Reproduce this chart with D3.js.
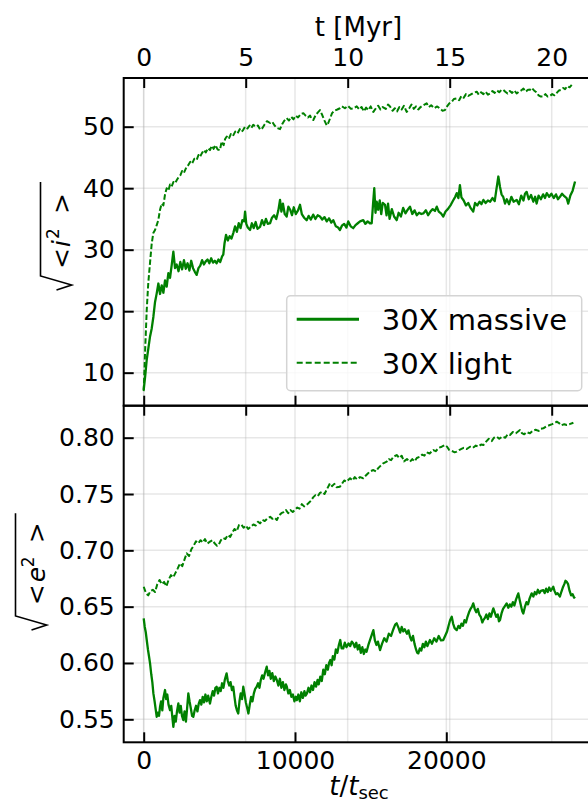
<!DOCTYPE html>
<html>
<head>
<meta charset="utf-8">
<script src="https://cdn.jsdelivr.net/npm/d3@7"></script>
<style>
  body { margin: 0; background: #fff; }
  svg { display: block; font-family: "DejaVu Sans", sans-serif; }
</style>
</head>
<body>
<div id="chart"></div>
<script>
// ---- data ----
const tsecTicks = [0, 10000, 20000];
const myrTicks = [0, 5, 10, 15, 20];
const incTicks = [10, 20, 30, 40, 50];
const eccTicks = [0.55, 0.6, 0.65, 0.7, 0.75, 0.8];
const tsecPerMyr = 1348.3;

const seriesNames = ["30X massive", "30X light"];

// sqrt(<i^2>), massive
const tMassiveInc = [0,100,200,310,420,530,640,750,860,970,1080,1190,1300,1410,1520,1630,1740,1850,1960,2070,2180,2300,2420,2540,2660,2780,2900,3020,3140,3260,3380,3500,3620,3740,3860,3980,4100,4220,4340,4460,4580,4700,4820,4940,5060,5180,5260,5340,5440,5560,5680,5800,5920,6040,6160,6280,6400,6520,6640,6700,6780,6880,7030,7150,7270,7400,7520,7690,7820,7950,8080,8200,8350,8480,8620,8760,8900,9010,9100,9200,9320,9450,9560,9680,9800,9920,10050,10200,10330,10450,10600,10770,10900,11050,11200,11350,11500,11650,11800,11950,12100,12250,12400,12530,12700,12850,12970,13100,13250,13400,13520,13680,13850,14000,14150,14300,14510,14650,14800,14950,15070,15160,15240,15320,15400,15500,15600,15700,15800,15950,16050,16150,16250,16400,16550,16720,16850,17000,17150,17300,17450,17600,17750,17900,18050,18200,18350,18480,18650,18800,18950,19100,19250,19370,19500,19650,19800,19950,20100,20300,20450,20590,20690,20800,20900,21000,21150,21300,21450,21600,21780,21900,22050,22200,22320,22450,22600,22750,22900,23050,23200,23300,23440,23550,23650,23760,23880,24000,24150,24300,24450,24650,24800,24950,25100,25200,25310,25450,25600,25750,25870,25970,26100,26250,26400,26520,26640,26800,26950,27100,27250,27380,27510,27650,27800,27950,28060,28200,28350,28510];
const massiveInc = [7.2,9.5,12.1,14.0,15.9,17.2,19.1,21.5,22.9,24.5,22.8,24.2,23.0,25.0,24.0,26.2,25.4,27.5,29.7,27.0,27.6,26.5,28.0,26.8,28.3,26.9,27.8,26.6,28.2,27.0,26.4,25.9,27.0,27.4,28.3,27.6,28.1,28.4,27.8,28.6,27.9,28.2,27.8,28.4,28.0,28.9,29.2,31.0,32.4,31.5,32.2,31.8,32.7,33.8,32.9,34.3,33.5,34.8,34.6,36.2,34.2,33.6,33.2,34.3,33.5,34.5,33.4,33.7,34.8,34.0,35.0,34.2,34.3,35.2,35.6,35.0,36.4,38.1,36.2,37.5,35.8,35.4,37.0,36.5,35.6,36.9,35.8,36.4,37.3,35.8,35.2,34.8,35.5,34.9,35.7,35.0,35.6,35.4,34.9,35.3,34.6,35.1,34.4,34.8,33.8,33.6,33.2,33.9,34.2,33.6,34.6,33.8,33.5,34.0,34.3,34.6,34.8,34.2,34.6,34.3,34.3,37.5,40.0,36.0,37.8,36.5,38.0,35.8,37.6,37.3,35.6,37.5,35.0,36.6,35.4,34.8,36.0,35.4,36.8,35.9,36.5,37.0,35.8,36.4,35.6,36.0,35.8,35.9,36.4,35.6,36.2,36.6,36.3,37.0,36.2,35.9,35.4,36.2,36.6,37.3,38.0,38.6,39.2,38.4,40.5,38.5,38.0,37.2,37.6,36.8,36.2,37.6,37.2,37.8,37.4,38.1,37.6,38.0,37.8,38.4,37.9,39.6,41.9,40.2,39.0,38.6,37.5,38.2,37.4,38.6,37.8,38.1,37.4,38.8,38.0,39.1,39.4,38.2,38.9,37.8,38.6,37.5,38.8,38.2,39.0,38.4,39.2,38.6,39.1,38.4,39.0,38.2,38.6,39.1,38.7,38.4,37.5,38.8,39.6,41.1];

// sqrt(<i^2>), light
const tLightInc = [0,100,200,300,416,530,634,750,860,965,1080,1190,1300,1410,1520,1630,1740,1850,1960,2070,2180,2300,2420,2540,2660,2840,2960,3080,3200,3350,3500,3620,3720,3850,3980,4100,4250,4380,4500,4620,4750,4880,5040,5150,5280,5380,5490,5620,5760,5900,6050,6200,6350,6480,6580,6700,6850,7000,7120,7240,7400,7550,7700,7850,8000,8150,8350,8500,8650,8800,9010,9150,9300,9450,9600,9750,9900,10050,10200,10400,10550,10700,10850,11000,11100,11210,11350,11500,11650,11800,11950,12100,12200,12310,12450,12600,12800,12970,13100,13300,13500,13700,13900,14080,14250,14400,14550,14700,14850,15000,15180,15350,15500,15650,15800,16000,16150,16280,16450,16600,16750,16900,17050,17200,17380,17550,17700,17850,18000,18150,18300,18500,18700,18850,19000,19200,19400,19600,19750,19910,20050,20200,20350,20500,20690,20850,21000,21150,21300,21450,21600,21800,22010,22150,22300,22450,22600,22750,22890,23050,23200,23350,23500,23650,23770,23900,24050,24200,24350,24500,24650,24800,24950,25100,25250,25400,25530,25650,25800,25950,26100,26250,26410,26550,26700,26850,27000,27150,27300,27450,27600,27730,27850,28000,28150,28290];
const lightInc = [7.0,14.0,20.2,24.5,27.8,31.0,32.7,33.2,34.0,34.8,36.5,37.5,37.2,39.0,40.0,39.6,40.6,40.3,41.0,40.8,41.3,41.8,42.1,42.8,42.5,43.5,43.8,44.3,44.0,44.8,44.6,45.4,45.1,45.7,46.2,45.8,46.5,46.2,46.9,46.4,47.0,46.3,46.2,47.6,47.0,48.0,48.4,48.0,48.8,48.5,49.2,48.9,49.6,49.2,49.5,50.0,49.7,50.2,49.8,50.3,50.0,50.2,49.5,49.8,50.4,50.9,50.6,50.8,50.2,49.8,49.6,50.4,51.0,51.4,51.0,51.6,51.2,51.8,51.5,52.1,52.2,51.8,51.5,51.8,51.2,51.1,51.8,52.3,52.7,51.9,51.0,50.2,50.6,51.3,52.2,52.6,52.8,53.0,53.3,53.0,53.4,52.9,53.0,53.3,52.8,53.2,52.5,53.1,52.7,53.3,52.4,53.0,53.4,52.8,53.2,52.9,53.6,53.3,52.6,53.0,52.5,53.2,52.8,53.4,52.4,53.0,53.6,52.9,53.3,52.8,53.2,53.5,53.8,53.2,53.5,53.0,53.3,52.9,52.6,52.7,53.3,53.8,54.0,54.5,54.6,54.3,55.0,54.7,55.3,55.0,55.2,55.5,55.7,55.2,55.6,55.3,55.7,55.2,55.4,55.8,55.5,55.9,55.6,56.0,56.0,55.7,55.4,55.8,55.5,55.9,55.4,55.7,55.9,56.2,55.7,56.0,56.0,56.3,55.9,55.6,55.1,54.9,54.9,55.3,54.9,55.0,55.3,55.1,55.5,55.9,56.0,56.3,56.1,56.6,56.4,56.8];

// sqrt(<e^2>), massive
const tMassiveEcc = [0,70,140,200,280,350,420,500,570,640,720,790,860,930,1010,1080,1150,1230,1300,1410,1480,1560,1640,1740,1820,1900,1960,2040,2120,2200,2290,2370,2450,2530,2620,2700,2790,2870,2950,3030,3110,3200,3280,3370,3460,3550,3640,3720,3810,3900,3990,4080,4170,4260,4380,4470,4560,4650,4740,4820,4910,5000,5090,5180,5270,5360,5480,5560,5650,5740,5830,5920,6000,6080,6160,6250,6330,6410,6500,6580,6670,6750,6840,6920,7010,7100,7190,7280,7370,7470,7560,7650,7740,7830,7920,8030,8130,8220,8310,8400,8500,8600,8700,8800,8900,9000,9100,9200,9300,9400,9460,9560,9660,9760,9860,9960,10050,10120,10220,10320,10420,10520,10620,10700,10790,10890,10990,11090,11190,11290,11390,11490,11570,11670,11770,11870,11970,12070,12170,12250,12330,12420,12500,12600,12700,12800,12900,12990,13080,13190,13290,13400,13540,13650,13750,13850,13950,14050,14150,14250,14350,14450,14550,14650,14730,14850,14950,15050,15180,15280,15380,15480,15620,15750,15900,16050,16200,16350,16500,16620,16720,16850,16950,17050,17150,17250,17400,17500,17600,17700,17800,17900,18000,18080,18150,18250,18350,18450,18550,18650,18750,18920,19050,19200,19350,19500,19650,19800,19920,20050,20150,20250,20360,20450,20550,20690,20800,20900,21000,21100,21200,21300,21400,21500,21600,21700,21780,21880,21980,22080,22180,22280,22380,22450,22550,22650,22750,22850,22950,23050,23110,23200,23300,23400,23480,23550,23650,23750,23850,23990,24100,24200,24300,24400,24500,24600,24680,24760,24850,24950,25020,25090,25200,25300,25400,25500,25640,25750,25850,25950,26050,26150,26250,26410,26500,26600,26700,26800,26900,27000,27070,27150,27250,27350,27510,27600,27700,27800,27880,27960,28050,28150,28250,28350,28450,28510];
const massiveEcc = [0.6396,0.632,0.627,0.6204,0.612,0.606,0.5997,0.590,0.583,0.573,0.566,0.559,0.5522,0.556,0.553,0.5611,0.566,0.558,0.569,0.576,0.568,0.572,0.563,0.5582,0.562,0.551,0.5434,0.553,0.548,0.557,0.5642,0.556,0.562,0.553,0.5493,0.557,0.548,0.560,0.573,0.566,0.560,0.553,0.5522,0.558,0.562,0.557,0.564,0.567,0.563,0.570,0.565,0.572,0.566,0.571,0.564,0.570,0.575,0.571,0.578,0.5789,0.573,0.578,0.575,0.582,0.578,0.585,0.5908,0.584,0.580,0.583,0.576,0.5789,0.570,0.562,0.558,0.5552,0.566,0.573,0.568,0.5789,0.572,0.565,0.560,0.5552,0.563,0.570,0.566,0.573,0.577,0.5789,0.582,0.578,0.585,0.589,0.586,0.592,0.5967,0.589,0.593,0.586,0.591,0.584,0.588,0.5848,0.580,0.586,0.578,0.583,0.576,0.581,0.5789,0.573,0.576,0.570,0.572,0.566,0.570,0.567,0.572,0.566,0.574,0.569,0.575,0.571,0.573,0.578,0.574,0.580,0.576,0.583,0.579,0.585,0.581,0.5878,0.584,0.594,0.590,0.598,0.594,0.600,0.6026,0.598,0.606,0.603,0.612,0.609,0.616,0.6204,0.613,0.613,0.618,0.614,0.6174,0.615,0.619,0.6174,0.614,0.618,0.612,0.616,0.609,0.614,0.608,0.612,0.610,0.616,0.620,0.624,0.6292,0.620,0.616,0.619,0.6115,0.617,0.622,0.619,0.626,0.624,0.630,0.634,0.6352,0.631,0.627,0.632,0.628,0.630,0.626,0.629,0.6233,0.620,0.624,0.617,0.612,0.609,0.6085,0.613,0.611,0.617,0.614,0.619,0.615,0.6204,0.617,0.622,0.619,0.624,0.620,0.6204,0.624,0.628,0.633,0.638,0.641,0.635,0.631,0.6292,0.633,0.631,0.635,0.633,0.638,0.636,0.641,0.645,0.648,0.650,0.6529,0.648,0.645,0.648,0.643,0.641,0.636,0.6381,0.640,0.643,0.639,0.644,0.641,0.646,0.6485,0.645,0.641,0.643,0.637,0.6381,0.644,0.648,0.650,0.6529,0.649,0.652,0.650,0.654,0.651,0.656,0.659,0.6618,0.656,0.650,0.646,0.644,0.650,0.654,0.652,0.657,0.6618,0.659,0.663,0.661,0.665,0.662,0.664,0.6647,0.662,0.666,0.663,0.667,0.664,0.666,0.6677,0.664,0.661,0.662,0.659,0.663,0.667,0.670,0.673,0.672,0.670,0.664,0.660,0.661,0.658,0.6588];

// sqrt(<e^2>), light
const tLightEcc = [0,150,300,450,600,750,900,1050,1200,1350,1500,1650,1800,1950,2100,2250,2400,2550,2700,2840,3000,3150,3300,3450,3610,3760,3900,4050,4200,4380,4550,4700,4850,4960,5100,5250,5400,5550,5720,5870,6000,6150,6300,6450,6600,6750,6900,7090,7250,7400,7550,7700,7850,8000,8150,8360,8500,8650,8800,8950,9100,9250,9400,9550,9690,9850,10000,10150,10300,10450,10600,10750,10900,11050,11200,11350,11500,11650,11800,11950,12100,12310,12450,12600,12750,12970,13100,13250,13400,13640,13800,13950,14100,14300,14510,14650,14800,14950,15180,15350,15500,15650,15800,16060,16200,16350,16500,16720,16900,17050,17200,17400,17600,17750,17900,18050,18260,18400,18550,18700,18900,19140,19300,19500,19700,19910,20050,20200,20400,20550,20690,20850,21000,21150,21350,21570,21750,21950,22100,22300,22450,22600,22800,23000,23150,23330,23500,23700,23900,24050,24210,24400,24600,24870,25000,25150,25300,25530,25700,25900,26100,26250,26410,26600,26800,27000,27150,27300,27450,27600,27800,27960,28150,28400];
const lightEcc = [0.6677,0.662,0.660,0.664,0.665,0.663,0.670,0.6737,0.670,0.672,0.668,0.674,0.678,0.676,0.680,0.684,0.6885,0.686,0.692,0.6973,0.695,0.701,0.704,0.708,0.7062,0.709,0.707,0.710,0.706,0.7077,0.709,0.706,0.704,0.705,0.709,0.711,0.710,0.7136,0.712,0.716,0.719,0.717,0.7225,0.723,0.720,0.722,0.719,0.721,0.723,0.722,0.7254,0.724,0.727,0.726,0.728,0.7298,0.728,0.729,0.727,0.731,0.733,0.734,0.7358,0.733,0.7358,0.734,0.736,0.738,0.737,0.741,0.739,0.7402,0.742,0.744,0.747,0.749,0.748,0.751,0.752,0.750,0.754,0.7595,0.757,0.759,0.756,0.7565,0.759,0.762,0.761,0.764,0.762,0.765,0.763,0.765,0.764,0.766,0.768,0.770,0.7713,0.770,0.773,0.775,0.777,0.7787,0.781,0.780,0.783,0.7846,0.782,0.784,0.779,0.781,0.7787,0.781,0.779,0.782,0.7831,0.785,0.784,0.787,0.786,0.789,0.788,0.791,0.792,0.7935,0.792,0.789,0.788,0.787,0.7876,0.789,0.790,0.791,0.790,0.792,0.791,0.793,0.792,0.794,0.7935,0.796,0.799,0.797,0.800,0.8009,0.799,0.801,0.800,0.803,0.8024,0.805,0.804,0.8068,0.804,0.803,0.805,0.8039,0.806,0.807,0.806,0.808,0.8083,0.810,0.811,0.812,0.813,0.8142,0.813,0.811,0.812,0.8113,0.812,0.8133];

// ---- layout ----
const width = 588, height = 805;
const left = 123.7, right = 594;
const topPanel = { y0: 78, y1: 405.7 };
const botPanel = { y0: 405.7, y1: 742.3 };
const green = "#008000";

const x = d3.scaleLinear().domain([-1322, 29762]).range([left, right]);
const xMyr = d3.scaleLinear()
  .domain([-1322 / tsecPerMyr, 29762 / tsecPerMyr])
  .range([left, right]);
const yInc = d3.scaleLinear().domain([4.63, 57.92]).range([topPanel.y1, topPanel.y0]);
const yEcc = d3.scaleLinear().domain([0.5296, 0.8284]).range([botPanel.y1, botPanel.y0]);

const svg = d3.select("#chart").append("svg")
  .attr("width", width)
  .attr("height", height)
  .attr("viewBox", [0, 0, width, height]);

svg.append("rect").attr("width", width).attr("height", height).attr("fill", "#fff");

// grids
function drawGrid(panel, y, yTicks) {
  const g = svg.append("g")
    .attr("stroke", "#b0b0b0")
    .attr("stroke-opacity", 0.3)
    .attr("stroke-width", 1.5);
  g.selectAll("line.gx")
    .data(tsecTicks.map(x).concat(myrTicks.map(xMyr)))
    .join("line")
    .attr("x1", (d) => d).attr("x2", (d) => d)
    .attr("y1", panel.y0).attr("y2", panel.y1);
  g.selectAll("line.gy")
    .data(yTicks)
    .join("line")
    .attr("class", "gy")
    .attr("x1", left).attr("x2", right)
    .attr("y1", (d) => y(d)).attr("y2", (d) => y(d));
}
drawGrid(topPanel, yInc, incTicks);
drawGrid(botPanel, yEcc, eccTicks);

// data lines
function drawSeries(ts, vs, y, dashed) {
  const line = d3.line().x((d) => x(d[0])).y((d) => y(d[1]));
  svg.append("path")
    .datum(d3.zip(ts, vs))
    .attr("fill", "none")
    .attr("stroke", green)
    .attr("stroke-width", dashed ? 2 : 2.3)
    .attr("stroke-linejoin", "round")
    .attr("stroke-dasharray", dashed ? "5.5,2.4" : null)
    .attr("d", line);
}
drawSeries(tMassiveInc, massiveInc, yInc, false);
drawSeries(tLightInc, lightInc, yInc, true);
drawSeries(tMassiveEcc, massiveEcc, yEcc, false);
drawSeries(tLightEcc, lightEcc, yEcc, true);

// legend
const legend = svg.append("g");
legend.append("rect")
  .attr("x", 286.7).attr("y", 295.7)
  .attr("width", 295).attr("height", 95)
  .attr("rx", 4)
  .attr("fill", "#fff").attr("fill-opacity", 0.8)
  .attr("stroke", "#d4d4d4").attr("stroke-width", 1.5);
seriesNames.forEach((name, i) => {
  const ly = 319.3 + i * 43.4;
  legend.append("line")
    .attr("x1", 296.7).attr("x2", 359)
    .attr("y1", ly).attr("y2", ly)
    .attr("stroke", green)
    .attr("stroke-width", i === 0 ? 3 : 2)
    .attr("stroke-dasharray", i === 0 ? null : "6,3");
  legend.append("text")
    .attr("x", 381.7).attr("y", ly + 11)
    .attr("font-size", 29)
    .attr("fill", "#000")
    .text(name);
});

// frames
[topPanel, botPanel].forEach((p) => {
  svg.append("rect")
    .attr("x", left).attr("y", p.y0)
    .attr("width", right - left).attr("height", p.y1 - p.y0)
    .attr("fill", "none").attr("stroke", "#000").attr("stroke-width", 2);
});

// axes (ticks pointing inward)
function styleAxis(g) {
  g.select(".domain").remove();
  g.selectAll(".tick line").attr("stroke", "#000").attr("stroke-width", 2);
  g.selectAll(".tick text").attr("fill", "#000");
  g.attr("font-family", null).attr("font-size", 25);
}

svg.append("g")
  .attr("transform", `translate(0,${topPanel.y0})`)
  .call(d3.axisTop(xMyr).tickValues(myrTicks).tickSize(-10).tickPadding(12.5).tickFormat(d3.format("d")))
  .call(styleAxis);

svg.append("g")
  .attr("transform", `translate(0,${topPanel.y1})`)
  .call(d3.axisBottom(x).tickValues(tsecTicks).tickSize(-10).tickFormat(""))
  .call(styleAxis);

svg.append("g")
  .attr("transform", `translate(0,${botPanel.y0})`)
  .call(d3.axisTop(xMyr).tickValues(myrTicks).tickSize(-10).tickFormat(""))
  .call(styleAxis);

svg.append("g")
  .attr("transform", `translate(0,${botPanel.y1})`)
  .call(d3.axisBottom(x).tickValues(tsecTicks).tickSize(-10).tickPadding(8.5).tickFormat(d3.format("d")))
  .call(styleAxis);

svg.append("g")
  .attr("transform", `translate(${left},0)`)
  .call(d3.axisLeft(yInc).tickValues(incTicks).tickSize(-10).tickPadding(9).tickFormat(d3.format("d")))
  .call(styleAxis);

svg.append("g")
  .attr("transform", `translate(${left},0)`)
  .call(d3.axisLeft(yEcc).tickValues(eccTicks).tickSize(-10).tickPadding(9).tickFormat(d3.format(".2f")))
  .call(styleAxis);

// axis titles
svg.append("text")
  .attr("x", 358.5).attr("y", 35.5)
  .attr("text-anchor", "middle")
  .attr("font-size", 26)
  .text("t [Myr]");

const xl = svg.append("text")
  .attr("x", 359).attr("y", 795)
  .attr("text-anchor", "middle")
  .attr("font-size", 26);
xl.append("tspan").attr("font-style", "italic").text("t");
xl.append("tspan").text("/");
xl.append("tspan").attr("font-style", "italic").text("t");
xl.append("tspan").attr("font-size", 18).attr("dy", 4).text("sec");

// sqrt(< x^2 >) labels, rotated
function sqrtLabel(ox, oy, letter, xs) {
  const g = svg.append("g").attr("transform", `translate(${ox},${oy}) rotate(-90)`);
  const t = g.append("text").attr("font-size", 25);
  t.append("tspan").attr("x", xs[0]).attr("y", 0).text("<");
  t.append("tspan").attr("x", xs[1]).attr("y", 0).attr("font-style", "italic").text(letter);
  t.append("tspan").attr("x", xs[2]).attr("y", -11).attr("font-size", 17).text("2");
  t.append("tspan").attr("x", xs[3]).attr("y", 0).text(">");
  g.append("path")
    .attr("d", `M${-xs[4] - 14},-13.5 L${-xs[4] - 9},1.7 L${-xs[4]},-29.5 L${xs[5]},-29.5`)
    .attr("fill", "none")
    .attr("stroke", "#000")
    .attr("stroke-width", 1.6);
}
sqrtLabel(70, 267, "i", [-2, 20, 28, 53, 9, 85]);
sqrtLabel(45, 603.3, "e", [-2, 21, 36, 60, 12.7, 90]);
</script>
</body>
</html>
